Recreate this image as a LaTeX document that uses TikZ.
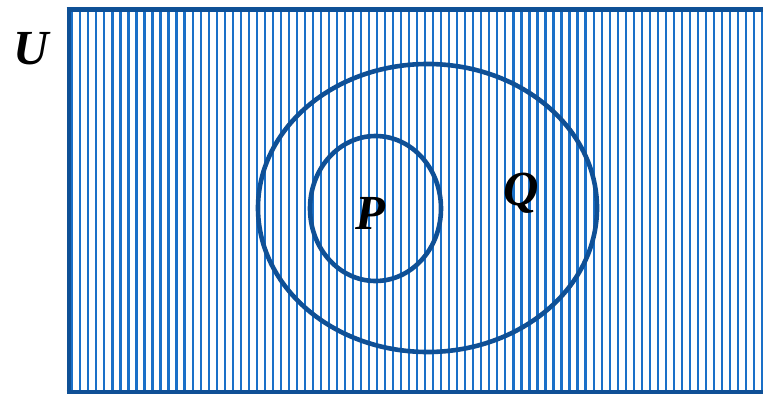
\documentclass[tikz,border=0pt]{standalone}
\usepackage{fontspec}
\setmainfont{Liberation Serif}
\definecolor{hatch}{HTML}{1A70C8}
\definecolor{edge}{HTML}{0F5096}
\tikzset{
  lbl/.style={font=\fontsize{49}{49}\selectfont\bfseries\itshape, inner sep=0pt},
  setline/.style={draw=edge, line width=4.6pt}
}
\begin{document}
\begin{tikzpicture}[x=1pt,y=-1pt]
\useasboundingbox (0,0) rectangle (763,394);
% hatching
\begin{scope}
  \clip (69,9.5) rectangle (775,392);
  \foreach \i in {0,...,87} {
    \draw[hatch, line width=2.2pt] ({72.3+8.02*\i},0) -- ({72.3+8.02*\i},400);
  }
\end{scope}
% universe border
\draw[setline] (69,9.5) -- (69,392);
\draw[setline] (66.7,9.5) -- (775,9.5);
\draw[setline] (66.7,392) -- (775,392);
% sets
\draw[setline] (427.5,208) ellipse [x radius=169.5, y radius=144];
\draw[setline] (375.5,208.5) ellipse [x radius=65.5, y radius=72.5];
% labels
\node[lbl] (U) at (31,49) {U};
\node[lbl] (P) at (370,213) {P};
\node[lbl] (Q) at (521,193) {Q};
\end{tikzpicture}
\end{document}
